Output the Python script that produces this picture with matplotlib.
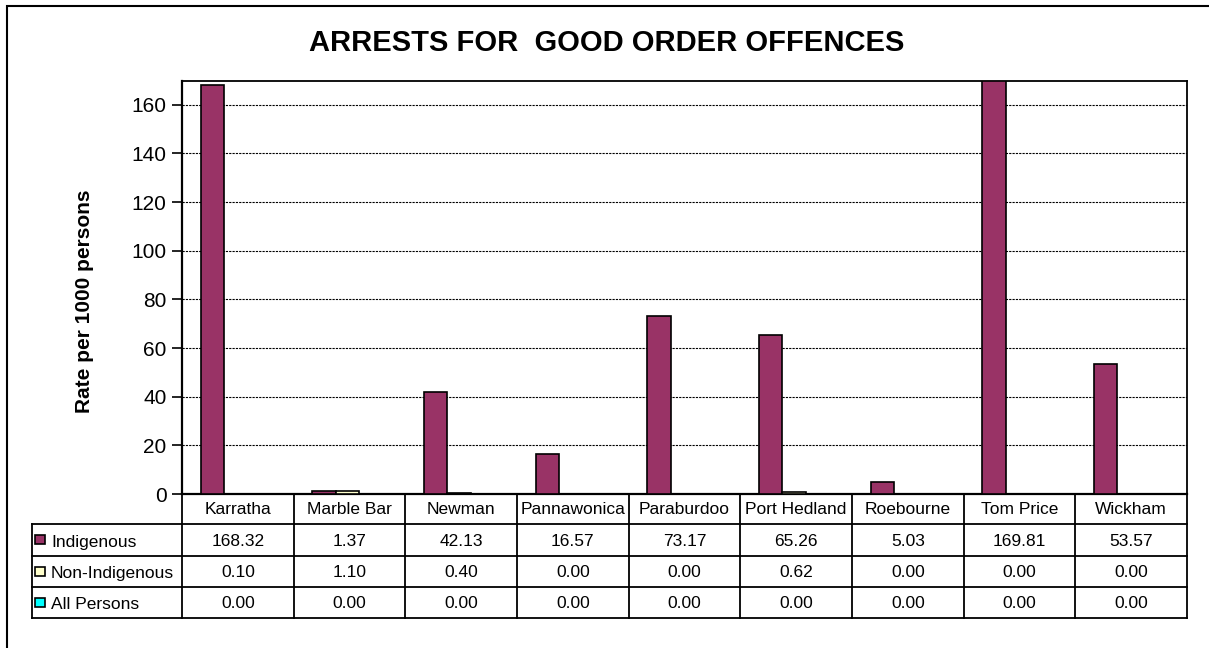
import matplotlib
matplotlib.use("Agg")
import matplotlib.pyplot as plt
from matplotlib.patches import Rectangle
from matplotlib.transforms import blended_transform_factory
import numpy as np

# Data
towns = ["Karratha", "Marble Bar", "Newman", "Pannawonica", "Paraburdoo",
         "Port Hedland", "Roebourne", "Tom Price", "Wickham"]
indigenous = [168.32, 1.37, 42.13, 16.57, 73.17, 65.26, 5.03, 169.81, 53.57]
non_indigenous = [0.10, 1.10, 0.40, 0.00, 0.00, 0.62, 0.00, 0.00, 0.00]
all_persons = [0.00, 0.00, 0.00, 0.00, 0.00, 0.00, 0.00, 0.00, 0.00]
series_names = ["Indigenous", "Non-Indigenous", "All Persons"]
series_colors = ["#993366", "#FFFFCC", "#00FFFF"]
y_ticks = [0, 20, 40, 60, 80, 100, 120, 140, 160]

plt.rcParams["font.family"] = ["Liberation Sans", "DejaVu Sans"]

W, H = 1209, 648
fig = plt.figure(figsize=(W / 100, H / 100), dpi=100)


def fx(px):
    return px / W


def fy(py):
    return 1 - py / H


# plot area in pixel terms
left, right, top, bottom = 182, 1187, 80.5, 494
ax = fig.add_axes([fx(left), fy(bottom), fx(right) - fx(left), fy(top) - fy(bottom)])

series = [indigenous, non_indigenous, all_persons]
x = np.arange(len(towns))
bw = 0.208
for i, (vals, col) in enumerate(zip(series, series_colors)):
    ax.bar(x + (i - 1) * bw - 0.02, vals, bw, color=col, edgecolor="black", linewidth=1.2, zorder=3)

ax.set_xlim(-0.5, len(towns) - 0.5)
ax.set_ylim(0, 170)
ax.set_yticks(y_ticks)
ax.set_xticks([])
ax.tick_params(axis="y", direction="out", length=7, width=1.2, pad=4, labelsize=15)
ax.yaxis.grid(True, linestyle=(0, (2, 1)), color="black", linewidth=0.8)
ax.set_axisbelow(True)
for side in ["left", "bottom"]:
    ax.spines[side].set_linewidth(1.6)
for side in ["top", "right"]:
    ax.spines[side].set_linewidth(1.3)

# data table under the chart
trans = blended_transform_factory(ax.transData, fig.transFigure)
row_lines = [494, 524, 556, 587, 618]
lw = 1.3

for b in np.arange(-0.5, len(towns), 1.0):
    ax.plot([b, b], [fy(494), fy(618)], transform=trans, color="black", lw=lw, clip_on=False)
for r in row_lines[1:]:
    fig.add_artist(plt.Line2D([fx(32), fx(right)], [fy(r)] * 2, color="black", lw=lw))
fig.add_artist(plt.Line2D([fx(32), fx(32)], [fy(524), fy(618)], color="black", lw=lw))

for i, t in enumerate(towns):
    ax.text(i, fy(510), t, transform=trans, ha="center", va="center", fontsize=12.5)

for r, (name, vals, col) in enumerate(zip(series_names, series, series_colors)):
    yc = (row_lines[r + 1] + row_lines[r + 2]) / 2 + 1
    fig.add_artist(Rectangle((fx(35), fy(yc + 3)), fx(10), fy(0) - fy(9),
                             facecolor=col, edgecolor="black", lw=1.2))
    fig.text(fx(51), fy(yc + 1), name, ha="left", va="center", fontsize=12.5)
    for i, v in enumerate(vals):
        ax.text(i, fy(yc), f"{v:.2f}", transform=trans, ha="center", va="center", fontsize=12.5)

# title, axis label and outer frame
fig.text(fx(607), fy(43), "ARRESTS FOR  GOOD ORDER OFFENCES", ha="center", va="center",
         fontsize=21, fontweight="bold")
fig.text(fx(84), fy(301), "Rate per 1000 persons", rotation=90, ha="center", va="center",
         fontsize=15, fontweight="bold")
fig.add_artist(Rectangle((fx(7), fy(700)), 2, fy(6) - fy(700), transform=fig.transFigure,
                         fill=False, edgecolor="black", lw=1.5))

fig.savefig("out.png", dpi=100)
